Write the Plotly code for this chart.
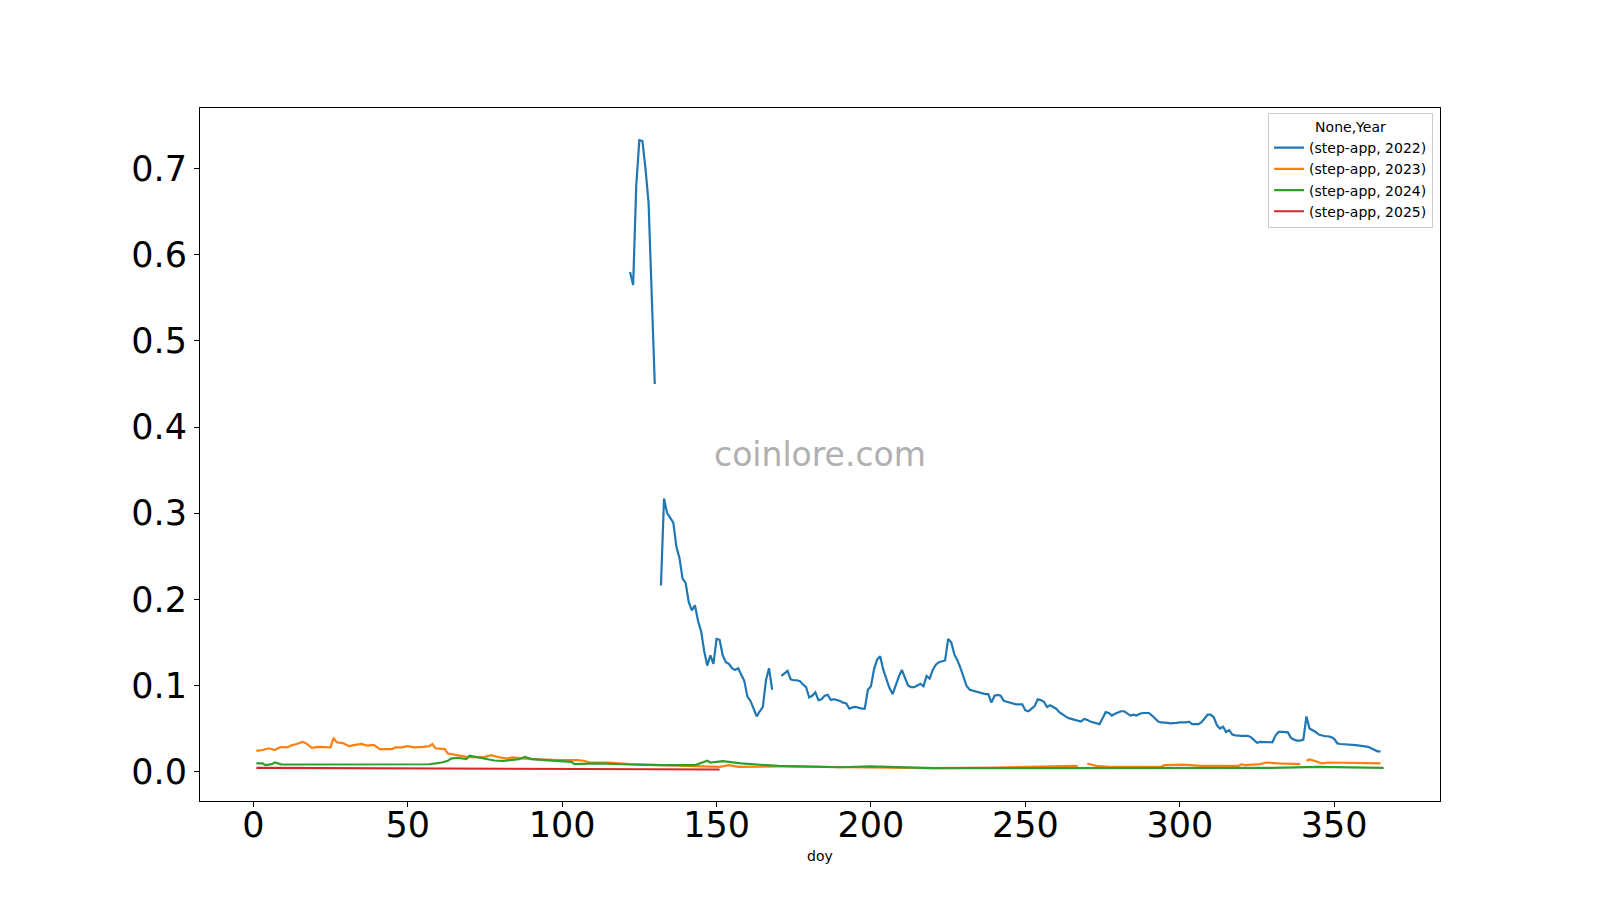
import plotly.graph_objects as go

# ---------------- data ----------------
doy_2022 = [122, 123, 124, 125, 126, 127, 128, 129, 130, 131,
            132, 133, 134, 135, 136, 137, 138, 139, 140, 141, 142, 143, 144, 145,
            146, 147, 148, 149, 150, 151, 152, 153, 154, 155, 156, 157, 158, 159,
            160, 161, 162, 163, 164, 165, 166, 167, 168, 169,
            171, 172, 173, 174, 175, 176, 177, 178, 179, 180, 181, 182, 183, 184,
            185, 186, 187, 188, 189, 190, 191, 192, 193, 194, 195, 196, 197, 198,
            199, 200, 201, 202, 203, 204, 205, 206, 207, 208, 209, 210, 211, 212,
            213, 214, 215, 216, 217, 218, 219, 220, 221, 222, 223, 224, 225, 226,
            227, 228, 229, 230, 231, 232, 233, 234, 235, 236, 237, 238, 239, 240,
            241, 242, 243, 244, 245, 246, 247, 248, 249, 250, 251, 252, 253, 254,
            255, 256, 257, 258, 259, 260, 261, 262, 263, 264, 265, 266, 267, 268,
            269, 270, 271, 272, 273, 274, 275, 276, 277, 278, 279, 280, 281, 282,
            283, 284, 285, 286, 287, 288, 289, 290, 291, 292, 293, 294, 295, 296,
            297, 298, 299, 300, 301, 302, 303, 304, 305, 306, 307, 308, 309, 310,
            311, 312, 313, 314, 315, 316, 317, 318, 319, 320, 321, 322, 323, 324,
            325, 326, 327, 328, 329, 330, 331, 332, 333, 334, 335, 336, 337, 338,
            339, 340, 341, 342, 343, 344, 345, 346, 347, 348, 349, 350, 351, 352,
            354, 357, 361, 362, 363, 364, 365]
price_2022 = [0.580, 0.565, 0.680, 0.733, 0.732, 0.700, 0.660, 0.555, 0.450, None,
              0.216, 0.317, 0.300, 0.295, 0.289, 0.261, 0.248, 0.224, 0.219, 0.197, 0.187, 0.193, 0.175, 0.163,
              0.140, 0.123, 0.135, 0.125, 0.154, 0.153, 0.135, 0.127, 0.125, 0.120, 0.118, 0.120, 0.113, 0.105,
              0.087, 0.082, 0.073, 0.064, 0.070, 0.075, 0.106, 0.120, 0.095, None,
              0.111, 0.114, 0.117, 0.107, 0.106, 0.106, 0.105, 0.101, 0.098, 0.086, 0.088, 0.092, 0.083, 0.084,
              0.088, 0.089, 0.083, 0.084, 0.083, 0.082, 0.080, 0.079, 0.073, 0.0745, 0.075, 0.074, 0.073, 0.073,
              0.095, 0.099, 0.119, 0.130, 0.134, 0.118, 0.106, 0.097, 0.090, 0.101, 0.110, 0.118, 0.108, 0.100,
              0.098, 0.098, 0.100, 0.102, 0.099, 0.111, 0.108, 0.118, 0.124, 0.127, 0.128, 0.129, 0.154, 0.150,
              0.136, 0.129, 0.120, 0.110, 0.099, 0.095, 0.094, 0.093, 0.092, 0.091, 0.090, 0.090, 0.080, 0.088,
              0.089, 0.088, 0.082, 0.081, 0.080, 0.079, 0.078, 0.078, 0.078, 0.071, 0.070, 0.073, 0.076, 0.084,
              0.083, 0.081, 0.075, 0.077, 0.075, 0.073, 0.069, 0.066, 0.064, 0.062, 0.061, 0.060, 0.059, 0.058,
              0.061, 0.060, 0.058, 0.057, 0.056, 0.055, 0.062, 0.069, 0.068, 0.065, 0.067, 0.069, 0.070, 0.070,
              0.068, 0.065, 0.066, 0.065, 0.067, 0.068, 0.068, 0.068, 0.065, 0.061, 0.058, 0.057, 0.057, 0.0565,
              0.056, 0.056, 0.0565, 0.057, 0.057, 0.057, 0.058, 0.055, 0.055, 0.055, 0.057, 0.062, 0.066, 0.066,
              0.063, 0.054, 0.050, 0.052, 0.046, 0.048, 0.043, 0.042, 0.0415, 0.0415, 0.0415, 0.0415, 0.040, 0.037,
              0.0334, 0.0345, 0.0345, 0.0345, 0.034, 0.034, 0.042, 0.046, 0.046, 0.0457, 0.0455, 0.039, 0.037, 0.036,
              0.036, 0.037, 0.064, 0.050, 0.048, 0.046, 0.043, 0.042, 0.041, 0.041, 0.040, 0.038, 0.0327, 0.032,
              0.0315, 0.0307, 0.0287, 0.027, 0.025, 0.0235, 0.0234]

doy_2023 = [1, 3, 5, 7, 8, 9, 11, 12, 14, 16, 17, 19, 21, 23, 25, 26, 27, 29, 31, 33,
            35, 37, 39, 41, 45, 46, 48, 50, 52, 55, 57, 58, 59, 62, 63, 66, 69, 72, 75, 77,
            79, 82, 84, 87, 91, 98, 105, 107, 109, 115, 122, 131, 141, 151, 154, 157, 170,
            180, 190, 200, 220, 240, 251, 266, 267, 268, 270, 273, 277, 294, 295, 301, 307,
            312, 319, 320, 321, 326, 328, 332, 339, 340, 341, 342, 344, 346, 348, 365]
price_2023 = [0.024, 0.025, 0.027, 0.025, 0.027, 0.0285, 0.028, 0.030, 0.032, 0.0345, 0.033, 0.0276,
              0.0287, 0.0287, 0.028, 0.039, 0.034, 0.033, 0.0295, 0.031, 0.032, 0.030, 0.031, 0.026,
              0.026, 0.028, 0.028, 0.0295, 0.028, 0.0287, 0.0295, 0.032, 0.027, 0.026, 0.021, 0.019,
              0.017, 0.0164, 0.017, 0.019, 0.017, 0.0152, 0.0164, 0.0152, 0.0144, 0.0133, 0.0133,
              0.0125, 0.0105, 0.0105, 0.0086, 0.0074, 0.0066, 0.0055, 0.0074, 0.0055, 0.006, 0.0055,
              0.005, 0.0045, 0.004, 0.0045, 0.0055, 0.0066, 0.006, None, 0.0094, 0.0066, 0.0055,
              0.0055, 0.0074, 0.008, 0.0066, 0.0066, 0.0066, 0.0086, 0.0074, 0.0086, 0.0105, 0.0094,
              0.0086, None, 0.0125, 0.014, 0.012, 0.0094, 0.0105, 0.0094]

doy_2024 = [1, 3, 4, 6, 7, 9, 20, 40, 57, 59, 61, 63, 64, 66, 69, 70, 72, 75, 78, 81, 86, 88,
            90, 98, 103, 104, 109, 111, 122, 131, 143, 145, 147, 148, 152, 154, 158, 170, 180,
            190, 200, 210, 220, 260, 300, 330, 345, 366]
price_2024 = [0.0094, 0.0094, 0.0074, 0.0086, 0.0105, 0.0084, 0.0082, 0.008, 0.0085, 0.0094,
              0.0105, 0.0125, 0.015, 0.016, 0.0144, 0.0183, 0.017, 0.0152, 0.0128, 0.0125, 0.0144,
              0.017, 0.0144, 0.0125, 0.0113, 0.0086, 0.0086, 0.0094, 0.0082, 0.0074, 0.0074, 0.0101,
              0.0125, 0.0105, 0.012, 0.0113, 0.0094, 0.0065, 0.006, 0.005, 0.006, 0.005, 0.004,
              0.004, 0.0043, 0.0043, 0.0055, 0.0043]

doy_2025 = [1, 30, 60, 90, 120, 151]
price_2025 = [0.0043, 0.0040, 0.0036, 0.0031, 0.0027, 0.0024]

series = [
    ("(step-app, 2022)", doy_2022, price_2022, "#1f77b4"),
    ("(step-app, 2023)", doy_2023, price_2023, "#ff7f0e"),
    ("(step-app, 2024)", doy_2024, price_2024, "#2ca02c"),
    ("(step-app, 2025)", doy_2025, price_2025, "#d62728"),
]

x_ticks = [0, 50, 100, 150, 200, 250, 300, 350]
y_ticks = [0.0, 0.1, 0.2, 0.3, 0.4, 0.5, 0.6, 0.7]

# ---------------- figure ----------------
# the page body has an 8px margin, so the figure is 16px smaller than the window
fig = go.Figure()
for name, xs, ys, color in series:
    fig.add_trace(go.Scatter(x=xs, y=ys, mode="lines", name=name,
                             line=dict(color=color, width=2.2),
                             connectgaps=False))

font_family = "DejaVu Sans"
fig.update_layout(
    width=1584, height=884,
    margin=dict(l=192, r=152, t=100, b=91, autoexpand=False),
    paper_bgcolor="white", plot_bgcolor="white",
    font=dict(family=font_family, color="black"),
    showlegend=True,
    legend=dict(
        title=dict(text="None,Year", side="top center", font=dict(size=14, family=font_family)),
        font=dict(size=14, family=font_family),
        x=0.9944, y=0.993, xanchor="right", yanchor="top",
        bgcolor="rgba(255,255,255,0.8)", bordercolor="#cccccc", borderwidth=1,
    ),
    xaxis=dict(
        range=[-17.25, 384.25], tickvals=x_ticks, ticktext=[str(v) for v in x_ticks],
        showgrid=False, zeroline=False, showline=True, mirror=True,
        linecolor="black", linewidth=1.1, ticks="outside", ticklen=5, tickcolor="black",
        ticklabelstandoff=-12,
        tickfont=dict(size=35, family=font_family, color="black"),
    ),
    yaxis=dict(
        range=[-0.0342, 0.7705], tickvals=y_ticks, ticktext=[f"{v:.1f}" for v in y_ticks],
        showgrid=False, zeroline=False, showline=True, mirror=True,
        linecolor="black", linewidth=1.1, ticks="outside", ticklen=5, tickcolor="black",
        tickfont=dict(size=35, family=font_family, color="black"),
    ),
    annotations=[
        dict(text="coinlore.com", xref="paper", yref="paper", x=0.5, y=0.5,
             showarrow=False, font=dict(size=33, family=font_family, color="#b0b0b0")),
        dict(text="doy", xref="paper", yref="paper", x=0.5, y=-0.0794, yanchor="middle",
             showarrow=False, font=dict(size=14, family=font_family, color="black")),
    ],
)

fig.write_html("out.html")
